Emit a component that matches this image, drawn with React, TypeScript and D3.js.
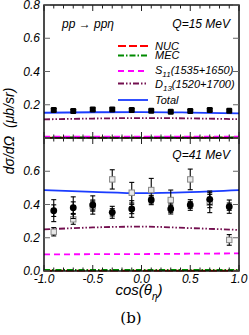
import React from "react";
import * as d3 from "d3";

const W = 249;
const H = 335;

const xTicksMajor = [-1.0, -0.5, 0.0, 0.5, 1.0];
const xTickLabels = ["-1.0", "-0.5", "0.0", "0.5", "1.0"];
const yTicksTop = [0.2, 0.4, 0.6, 0.8];
const yTickLabelsTop = ["0.2", "0.4", "0.6", "0.8"];
const yTicksBottom = [0.0, 0.2, 0.4, 0.6, 0.8];
const yTickLabelsBottom = ["0.0", "0.2", "0.4", "0.6", "0.8"];

// data points
const cosData = [-0.9, -0.7, -0.5, -0.3, -0.1, 0.1, 0.3, 0.5, 0.7, 0.9];
const q15Values = [0.168, 0.162, 0.172, 0.172, 0.168, 0.164, 0.158, 0.162, 0.168, 0.164];
const q15Err = [0.01, 0.01, 0.008, 0.008, 0.008, 0.008, 0.008, 0.008, 0.008, 0.008];
const q41Circle = [0.363, 0.381, 0.397, 0.353, 0.373, 0.427, 0.373, 0.397, 0.431, 0.387];
const q41CircleErr = [0.066, 0.065, 0.055, 0.036, 0.05, 0.028, 0.03, 0.032, 0.05, 0.04];
const q41CircleStat = [0.035, 0.035, 0.03, 0.022, 0.028, 0.018, 0.02, 0.02, 0.03, 0.022];
const q41Square = [0.236, 0.311, 0.39, 0.551, 0.471, 0.487, 0.427, 0.551, 0.411, 0.187];
const q41SquareErr = [0.025, 0.03, 0.03, 0.058, 0.062, 0.07, 0.06, 0.062, 0.06, 0.032];

// theory curves
const cosCurve = [-1.0, -0.5, 0.0, 0.5, 1.0];
const nuc15 = [0.002, 0.002, 0.002, 0.002, 0.002];
const mec15 = [0.004, 0.004, 0.004, 0.004, 0.004];
const s11_15 = [0.008, 0.008, 0.008, 0.008, 0.008];
const d13_15 = [0.112, 0.117, 0.12, 0.118, 0.113];
const total15 = [0.152, 0.155, 0.156, 0.153, 0.148];
const nuc41 = [0.002, 0.002, 0.002, 0.002, 0.002];
const mec41 = [0.006, 0.006, 0.006, 0.006, 0.006];
const s11_41 = [0.1, 0.101, 0.102, 0.104, 0.106];
const d13_41 = [0.25, 0.262, 0.267, 0.258, 0.247];
const total41 = [0.486, 0.476, 0.468, 0.474, 0.486];

const legendNames = ["NUC", "MEC", "S11", "D13", "Total"];

const styles: Record<string, { color: string; dash: string }> = {
  NUC: { color: "#ff0000", dash: "8,3" },
  MEC: { color: "#008a00", dash: "6,2,1.5,2" },
  S11: { color: "#ff00ff", dash: "6,4" },
  D13: { color: "#730f4f", dash: "6,2,1.5,2,1.5,2" },
  Total: { color: "#1a3cff", dash: "" },
};

const L = 44;
const R = 239;
const TOP = 5;
const MID = 138;
const BOT = 271;

const x = d3.scaleLinear().domain([-1, 1]).range([L, R]);
const yTop = d3.scaleLinear().domain([0, 0.8]).range([MID, TOP]);
const yBot = d3.scaleLinear().domain([0, 0.8]).range([BOT, MID]);

const font = "'Liberation Sans', Arial, sans-serif";

function curvePath(vals: number[], y: d3.ScaleLinear<number, number>) {
  const line = d3
    .line<number>()
    .x((_, i) => x(cosCurve[i]))
    .y((v) => y(v))
    .curve(d3.curveMonotoneX);
  return line(vals) || "";
}

function Curves({ y, sets }: { y: d3.ScaleLinear<number, number>; sets: [string, number[]][] }) {
  return (
    <g>
      {sets.map(([name, vals]) => (
        <path
          key={name}
          d={curvePath(vals, y)}
          fill="none"
          stroke={styles[name].color}
          strokeWidth={1.8}
          strokeDasharray={styles[name].dash}
        />
      ))}
    </g>
  );
}

function ErrBar({ cx, y0, y1, cap }: { cx: number; y0: number; y1: number; cap: number }) {
  return (
    <g stroke="#000" strokeWidth={1.1}>
      <line x1={cx} x2={cx} y1={y0} y2={y1} />
      <line x1={cx - cap} x2={cx + cap} y1={y0} y2={y0} />
      <line x1={cx - cap} x2={cx + cap} y1={y1} y2={y1} />
    </g>
  );
}

function App() {
  const minorTicks = d3.range(-10, 11).map((i) => i / 10);
  const isMajor = (v: number) => Math.abs(v * 2 - Math.round(v * 2)) < 1e-6;

  return (
    <svg
      width={W}
      height={H}
      viewBox={`0 0 ${W} ${H}`}
      style={{ position: "absolute", left: 0, top: 0, background: "#fff" }}
    >
      <rect x={0} y={0} width={W} height={H} fill="#fff" />

      {/* theory curves */}
      <Curves
        y={yTop}
        sets={[
          ["NUC", nuc15],
          ["MEC", mec15],
          ["S11", s11_15],
          ["D13", d13_15],
          ["Total", total15],
        ]}
      />
      <Curves
        y={yBot}
        sets={[
          ["NUC", nuc41],
          ["MEC", mec41],
          ["S11", s11_41],
          ["D13", d13_41],
          ["Total", total41],
        ]}
      />

      {/* top data */}
      {cosData.map((c, i) => (
        <g key={"t" + i}>
          <ErrBar cx={x(c)} y0={yTop(q15Values[i] + q15Err[i])} y1={yTop(q15Values[i] - q15Err[i])} cap={2.5} />
          <rect x={x(c) - 3} y={yTop(q15Values[i]) - 3} width={6} height={6} rx={1.2} fill="#000" />
        </g>
      ))}

      {/* bottom squares */}
      {cosData.map((c, i) => (
        <g key={"s" + i}>
          <ErrBar
            cx={x(c)}
            y0={yBot(q41Square[i] + q41SquareErr[i])}
            y1={yBot(q41Square[i] - q41SquareErr[i])}
            cap={2.5}
          />
          <rect
            x={x(c) - 2.7}
            y={yBot(q41Square[i]) - 2.7}
            width={5.4}
            height={5.4}
            fill="#e8e8e8"
            stroke="#888"
            strokeWidth={1}
          />
        </g>
      ))}

      {/* bottom circles */}
      {cosData.map((c, i) => (
        <g key={"c" + i}>
          <ErrBar
            cx={x(c)}
            y0={yBot(q41Circle[i] + q41CircleErr[i])}
            y1={yBot(q41Circle[i] - q41CircleErr[i])}
            cap={2.5}
          />
          <ErrBar
            cx={x(c)}
            y0={yBot(q41Circle[i] + q41CircleStat[i])}
            y1={yBot(q41Circle[i] - q41CircleStat[i])}
            cap={2.5}
          />
          <circle cx={x(c)} cy={yBot(q41Circle[i])} r={3.4} fill="#000" />
        </g>
      ))}

      {/* frames */}
      <rect x={L} y={TOP} width={R - L} height={BOT - TOP} fill="none" stroke="#000" strokeWidth={1.4} />
      <line x1={L} x2={R} y1={MID} y2={MID} stroke="#000" strokeWidth={1.4} />

      {/* x ticks */}
      {minorTicks.map((v) => {
        const len = isMajor(v) ? 6 : 3.5;
        const px = x(v);
        return (
          <g key={"xt" + v} stroke="#222" strokeWidth={1}>
            <line x1={px} x2={px} y1={TOP} y2={TOP + len} />
            <line x1={px} x2={px} y1={MID} y2={MID - len} />
            <line x1={px} x2={px} y1={MID} y2={MID + len} />
            <line x1={px} x2={px} y1={BOT} y2={BOT - len} />
          </g>
        );
      })}

      {/* y ticks */}
      {yTicksTop.map((v) => (
        <g key={"yt" + v} stroke="#666" strokeWidth={1}>
          <line x1={L} x2={L + 6} y1={yTop(v)} y2={yTop(v)} />
          <line x1={R} x2={R - 6} y1={yTop(v)} y2={yTop(v)} />
        </g>
      ))}
      {yTicksBottom.map((v) => (
        <g key={"yb" + v} stroke="#666" strokeWidth={1}>
          <line x1={L} x2={L + 6} y1={yBot(v)} y2={yBot(v)} />
          <line x1={R} x2={R - 6} y1={yBot(v)} y2={yBot(v)} />
        </g>
      ))}

      {/* y tick labels */}
      <g fontFamily={font} fontStyle="italic" fontSize={12} fill="#000" textAnchor="end">
        {yTicksTop.map((v, i) => (
          <text key={"ytl" + v} x={40} y={yTop(v) + 4.2}>
            {yTickLabelsTop[i]}
          </text>
        ))}
        {yTicksBottom.slice(0, 4).map((v, i) => (
          <text key={"ybl" + v} x={40} y={yBot(v) + 4.2}>
            {yTickLabelsBottom[i]}
          </text>
        ))}
      </g>

      {/* x tick labels */}
      <g fontFamily={font} fontStyle="italic" fontSize={12} fill="#000" textAnchor="middle">
        {xTicksMajor.map((v, i) => (
          <text key={"xtl" + v} x={x(v)} y={282.5}>
            {xTickLabels[i]}
          </text>
        ))}
      </g>

      {/* axis titles */}
      <text x={139} y={295} fontFamily={font} fontStyle="italic" fontSize={15} textAnchor="middle">
        cos(θ<tspan fontSize={10} dy={5}>η</tspan>
        <tspan dy={-5}>)</tspan>
      </text>
      <g transform="translate(14,131) rotate(-90)">
        <text x={0} y={0} fontFamily={font} fontStyle="italic" fontSize={14} textAnchor="middle" xmlSpace="preserve" style={{ whiteSpace: "pre" }}>
          dσ/dΩ  (μb/sr)
        </text>
      </g>
      <text x={131} y={323} fontFamily="'DejaVu Serif', 'Liberation Serif', serif" fontSize={15} textAnchor="middle">
        (b)
      </text>

      {/* annotations */}
      <g fontFamily={font} fontStyle="italic" fontSize={12} fill="#000">
        <text x={62} y={28}>pp → ppη</text>
        <text x={230} y={28} textAnchor="end">Q=15 MeV</text>
        <text x={230} y={159} textAnchor="end">Q=41 MeV</text>
      </g>

      {/* legend */}
      {legendNames.map((name, i) => {
        const ly = [46, 55.5, 71, 83.5, 100][i];
        const ty = [50, 59, 73.5, 88, 104][i];
        return (
          <g key={"lg" + name}>
            <line
              x1={118}
              x2={148}
              y1={ly}
              y2={ly}
              stroke={styles[name].color}
              strokeWidth={1.8}
              strokeDasharray={styles[name].dash}
            />
            <text x={155} y={ty} fontFamily={font} fontStyle="italic" fontSize={11} fill="#000">
              {name === "S11" ? (
                <>
                  S<tspan fontSize={8} dy={3}>11</tspan>
                  <tspan dy={-3}>(1535+1650)</tspan>
                </>
              ) : name === "D13" ? (
                <>
                  D<tspan fontSize={8} dy={3}>13</tspan>
                  <tspan dy={-3}>(1520+1700)</tspan>
                </>
              ) : (
                name
              )}
            </text>
          </g>
        );
      })}
    </svg>
  );
}

export default App;
